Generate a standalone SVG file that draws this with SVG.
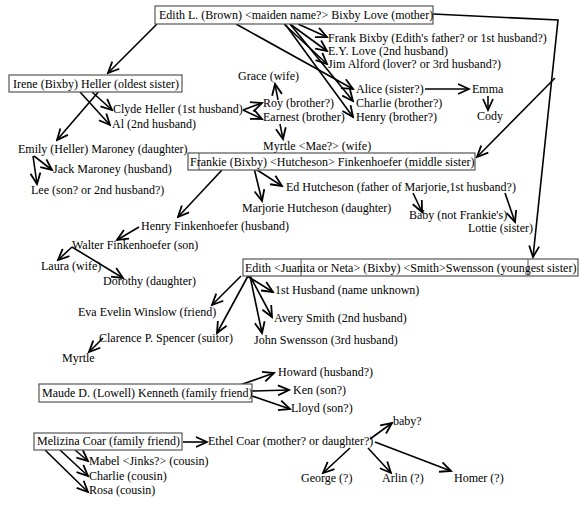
<svg xmlns="http://www.w3.org/2000/svg" width="580" height="519" viewBox="0 0 580 519">
<style>
text{font-family:"Liberation Serif","Times New Roman",serif;font-size:12px;fill:#000}
.box{fill:#fff;stroke:#555;stroke-width:1.2}
.c line,.c path{stroke:#000;stroke-width:1.6;fill:none;marker-end:url(#a)}
.sep{stroke:#555;stroke-width:1}
</style>
<defs>
<marker id="a" markerWidth="14" markerHeight="12" refX="12" refY="6" orient="auto" markerUnits="userSpaceOnUse">
<path d="M1,1 L12,6 L1,11" fill="none" stroke="#000" stroke-width="1.8"/>
</marker>
</defs>
<rect width="580" height="519" fill="#fff"/>
<g class="c" id="connectors">
<line x1="157" y1="24" x2="108" y2="73"/>
<line x1="298" y1="24" x2="327" y2="37"/>
<line x1="290" y1="24" x2="327" y2="51"/>
<line x1="284" y1="24" x2="327" y2="64"/>
<line x1="236" y1="24" x2="353" y2="89"/>
<line x1="290" y1="24" x2="353" y2="101"/>
<line x1="285" y1="24" x2="353" y2="117"/>
<path d="M433,14 L558,20 L533,257"/>
<line x1="555" y1="78" x2="477" y2="157"/>
<line x1="92" y1="92" x2="112" y2="110"/>
<line x1="80" y1="92" x2="110" y2="125"/>
<line x1="100" y1="90" x2="57" y2="140"/>
<line x1="34" y1="156" x2="52" y2="170"/>
<line x1="33" y1="156" x2="37" y2="184"/>
<line x1="425" y1="89" x2="469" y2="89"/>
<line x1="488" y1="96" x2="488" y2="110"/>
<line x1="243" y1="110" x2="262" y2="103"/>
<line x1="243" y1="110" x2="262" y2="119"/>
<line x1="278" y1="100" x2="275" y2="84"/>
<line x1="280" y1="124" x2="283" y2="139"/>
<line x1="222" y1="170" x2="178" y2="217"/>
<line x1="254" y1="168" x2="282" y2="186"/>
<line x1="254" y1="168" x2="262" y2="201"/>
<line x1="413" y1="193" x2="422" y2="212"/>
<line x1="505" y1="193" x2="515" y2="222"/>
<line x1="139" y1="227" x2="117" y2="240"/>
<line x1="72" y1="247" x2="58" y2="260"/>
<line x1="72" y1="247" x2="123" y2="278"/>
<line x1="247" y1="276" x2="273" y2="292"/>
<line x1="250" y1="276" x2="272" y2="317"/>
<line x1="250" y1="276" x2="262" y2="333"/>
<line x1="241" y1="276" x2="212" y2="305"/>
<line x1="248" y1="276" x2="217" y2="333"/>
<line x1="103" y1="338" x2="89" y2="352"/>
<line x1="240" y1="385" x2="274" y2="373"/>
<line x1="252" y1="391" x2="289" y2="390"/>
<line x1="252" y1="396" x2="290" y2="409"/>
<line x1="183" y1="442" x2="207" y2="442"/>
<line x1="75" y1="450" x2="88" y2="461"/>
<line x1="60" y1="450" x2="88" y2="476"/>
<line x1="45" y1="450" x2="88" y2="492"/>
<line x1="370" y1="439" x2="392" y2="423"/>
<line x1="350" y1="448" x2="323" y2="473"/>
<line x1="368" y1="448" x2="391" y2="473"/>
<line x1="375" y1="442" x2="451" y2="471"/>
</g>
<g id="edith-mother"><rect class="box" x="155" y="6" width="278" height="18"/><text x="159" y="19">Edith L. (Brown) &lt;maiden name?&gt; Bixby Love (mother)</text></g>
<g id="frank"><text x="328" y="42">Frank Bixby (Edith's father? or 1st husband?)</text></g>
<g id="ey"><text x="328" y="55">E.Y. Love (2nd husband)</text></g>
<g id="jim"><text x="328" y="68">Jim Alford (lover? or 3rd husband?)</text></g>
<g id="grace"><text x="238" y="80">Grace (wife)</text></g>
<g id="irene"><rect class="box" x="9" y="75" width="173" height="17"/><text x="13" y="88">Irene (Bixby) Heller (oldest sister)</text></g>
<g id="alice"><text x="356" y="93">Alice (sister?)</text></g>
<g id="emma"><text x="472" y="93">Emma</text></g>
<g id="roy"><text x="263" y="107">Roy (brother?)</text></g>
<g id="charlie-b"><text x="356" y="107">Charlie (brother?)</text></g>
<g id="clyde"><text x="113" y="113">Clyde Heller (1st husband)</text></g>
<g id="cody"><text x="477" y="120">Cody</text></g>
<g id="earnest"><text x="263" y="121">Earnest (brother)</text></g>
<g id="henry-b"><text x="356" y="121">Henry (brother?)</text></g>
<g id="al"><text x="112" y="128">Al (2nd husband)</text></g>
<g id="emily"><text x="18" y="153">Emily (Heller) Maroney (daughter)</text></g>
<g id="myrtle-mae"><text x="263" y="150">Myrtle &lt;Mae?&gt; (wife)</text></g>
<g id="frankie"><rect class="box" x="188" y="153" width="287" height="17"/><line class="sep" x1="199" y1="153" x2="199" y2="170"/><text x="190" y="166">Frankie (Bixby) &lt;Hutcheson&gt; Finkenhoefer (middle sister)</text></g>
<g id="jack"><text x="53" y="173">Jack Maroney (husband)</text></g>
<g id="ed"><text x="286" y="191">Ed Hutcheson (father of Marjorie,1st husband?)</text></g>
<g id="lee"><text x="31" y="194">Lee (son? or 2nd husband?)</text></g>
<g id="marjorie"><text x="242" y="212">Marjorie Hutcheson (daughter)</text></g>
<g id="baby-nf"><text x="409" y="219">Baby (not Frankie's)</text></g>
<g id="henry-f"><text x="141" y="230">Henry Finkenhoefer (husband)</text></g>
<g id="lottie"><text x="468" y="232">Lottie (sister)</text></g>
<g id="walter"><text x="72" y="249">Walter Finkenhoefer (son)</text></g>
<g id="laura"><text x="41" y="270">Laura (wife)</text></g>
<g id="edith-youngest"><rect class="box" x="243" y="259" width="335" height="17"/><line class="sep" x1="301" y1="259" x2="301" y2="276"/><line class="sep" x1="528" y1="259" x2="528" y2="276"/><text x="245" y="272">Edith &lt;Juanita or Neta&gt; (Bixby) &lt;Smith&gt;Swensson (youngest sister)</text></g>
<g id="dorothy"><text x="103" y="285">Dorothy (daughter)</text></g>
<g id="first-husband"><text x="275" y="294">1st Husband (name unknown)</text></g>
<g id="eva"><text x="78" y="316">Eva Evelin Winslow (friend)</text></g>
<g id="avery"><text x="274" y="322">Avery Smith (2nd husband)</text></g>
<g id="clarence"><text x="99" y="342">Clarence P. Spencer (suitor)</text></g>
<g id="john"><text x="254" y="344">John Swensson (3rd husband)</text></g>
<g id="myrtle"><text x="62" y="362">Myrtle</text></g>
<g id="howard"><text x="278" y="376">Howard (husband?)</text></g>
<g id="maude"><rect class="box" x="39" y="384" width="213" height="18"/><text x="42" y="397">Maude D. (Lowell) Kenneth (family friend)</text></g>
<g id="ken"><text x="293" y="394">Ken (son?)</text></g>
<g id="lloyd"><text x="291" y="412">Lloyd (son?)</text></g>
<g id="baby-q"><text x="393" y="425">baby?</text></g>
<g id="melizina"><rect class="box" x="34" y="433" width="148" height="17"/><text x="37" y="445">Melizina Coar (family friend)</text></g>
<g id="ethel"><text x="208" y="445">Ethel Coar (mother? or daughter?)</text></g>
<g id="mabel"><text x="89" y="465">Mabel &lt;Jinks?&gt; (cousin)</text></g>
<g id="charlie-c"><text x="89" y="480">Charlie (cousin)</text></g>
<g id="rosa"><text x="89" y="494">Rosa (cousin)</text></g>
<g id="george"><text x="301" y="482">George (?)</text></g>
<g id="arlin"><text x="382" y="482">Arlin (?)</text></g>
<g id="homer"><text x="454" y="482">Homer (?)</text></g>
</svg>
